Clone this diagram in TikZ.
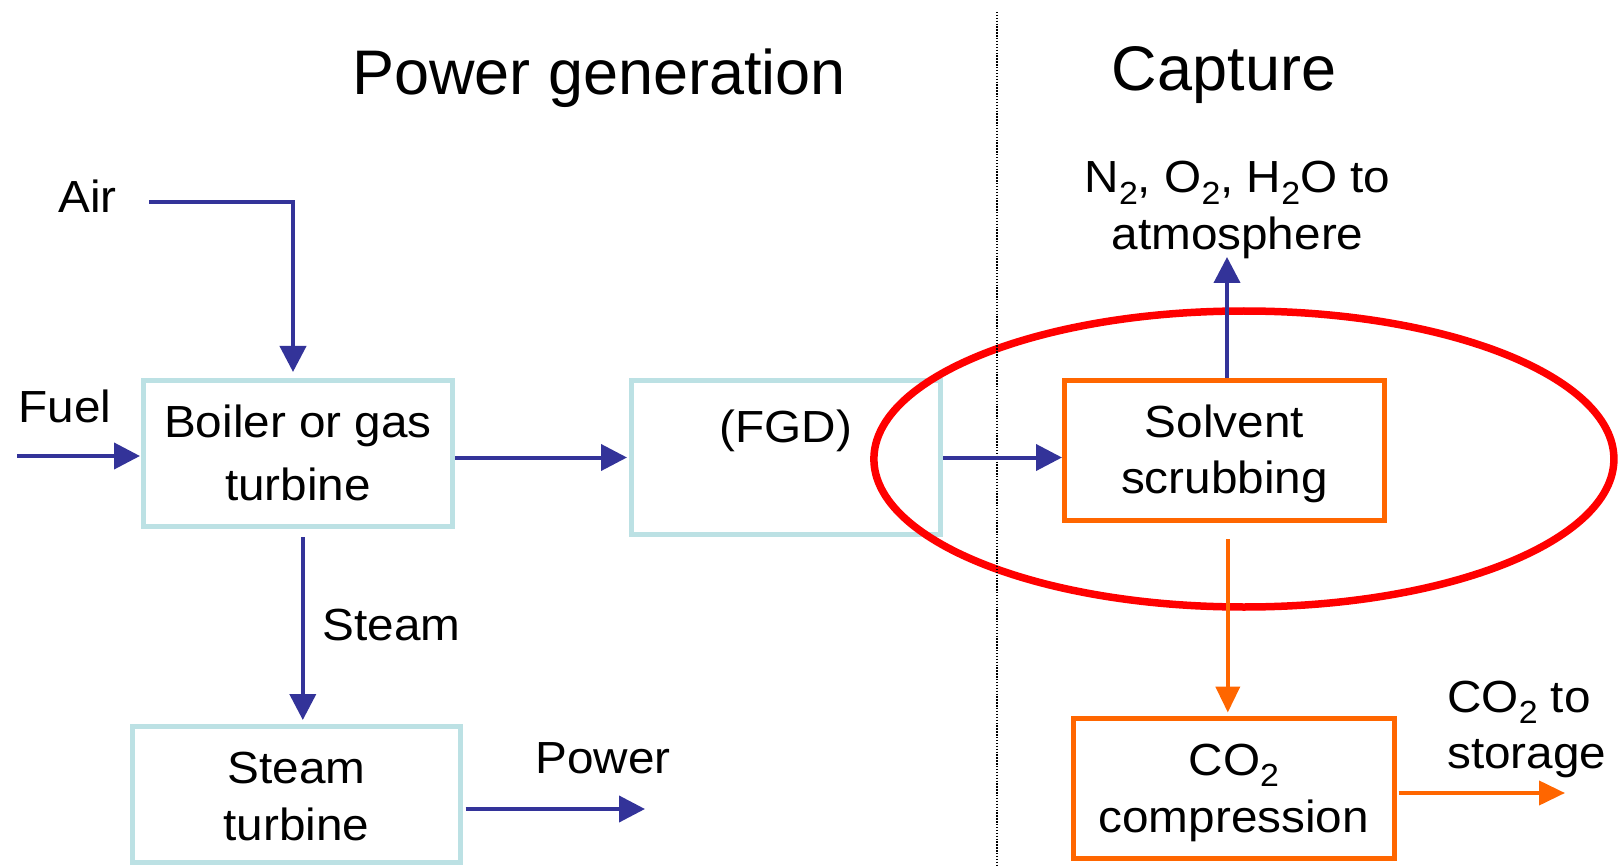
\documentclass[tikz,border=0pt]{standalone}
\usepackage{fontspec}
\setmainfont{Liberation Sans}
\newfontfamily\bodyfont[FakeStretch=1.06]{Liberation Sans}
\usetikzlibrary{arrows.meta}

\definecolor{flowblue}{RGB}{51,51,153}
\definecolor{boxblue}{RGB}{188,225,228}
\definecolor{caporange}{RGB}{255,102,0}
\definecolor{ringred}{RGB}{255,0,0}

% lowered "2" for chemical formulae
\newcommand\subtwo{\raisebox{-11.5pt}{\fontsize{32}{32}\selectfont 2}}

\tikzset{
  txt/.style={font=\bodyfont\fontsize{45}{57}\selectfont, inner sep=0pt},
  heading/.style={font=\fontsize{63}{70}\selectfont, inner sep=0pt},
  plantbox/.style={draw=boxblue, line width=5pt, inner sep=0pt, align=center,
                   font=\bodyfont\fontsize{45}{57}\selectfont},
  capbox/.style={draw=caporange, line width=5pt, inner sep=0pt, align=center,
                 font=\bodyfont\fontsize{45}{57}\selectfont},
  flow/.style={draw=flowblue, line width=4pt, -{Triangle[length=26pt,width=26pt]}},
  coflow/.style={draw=caporange, line width=4pt, -{Triangle[length=26pt,width=24pt]}},
  divider/.style={draw=black, line width=1.6pt, dash pattern=on 1.4pt off 1.5pt},
}

\begin{document}
\begin{tikzpicture}[x=1pt,y=-1pt]
\useasboundingbox (0,0) rectangle (1619,866);

% process blocks (the text box is sized from the baseline of its last line)
\node[plantbox, minimum width=309pt, minimum height=146pt,
      text height=105pt, text depth=12pt, font=\bodyfont\fontsize{45}{63}\selectfont]
  (boiler) at (298,453.5) {Boiler or gas\\turbine};
\node[plantbox, minimum width=309pt, minimum height=154pt,
      text height=34pt, text depth=65pt]
  (fgd) at (786,457.5) {(FGD)};
\node[plantbox, minimum width=328pt, minimum height=136pt,
      text height=103pt, text depth=12pt]
  (steamturb) at (296.4,794.5) {Steam\\turbine};
\node[capbox, minimum width=320pt, minimum height=140pt,
      text height=97pt, text depth=12pt, font=\bodyfont\fontsize{45}{56}\selectfont]
  (solvent) at (1224.5,450.5) {Solvent\\scrubbing};
\node[capbox, minimum width=320.5pt, minimum height=140pt,
      text height=100pt, text depth=12pt]
  (comp) at (1233.8,788) {CO\subtwo\\compression};

% capture unit highlight
\draw[ringred, line width=7.5pt] (1243.9,459) ellipse [x radius=370pt, y radius=148pt];

% section divider
\coordinate (divTop) at (997,12);
\coordinate (divBot) at (997,866);
\draw[divider] (divTop) -- (divBot);

% headings
\node[heading, anchor=base] (powergen) at (599,95) {Power generation};
\node[heading, anchor=base] (capture) at (1224,91) {Capture};

% stream labels
\node[txt, anchor=base] (air) at (87.5,213) {Air};
\node[txt, anchor=base] (fuel) at (65,422) {Fuel};
\node[txt, anchor=base] (steam) at (391.8,640) {Steam};
\node[txt, anchor=base] (power) at (603,773) {Power};
\node[txt, anchor=base, align=center] (vent) at (1237.5,250)
  {N\subtwo, O\subtwo, H\subtwo O to\\atmosphere};
\node[txt, anchor=base west, align=left, font=\bodyfont\fontsize{45}{56}\selectfont]
  (storage) at (1447,768) {CO\subtwo\ to\\storage};

% flue gas and utility streams
\coordinate (airA) at (149,202);
\coordinate (airB) at (293,202);
\draw[flow, shorten >=6pt] (airA) -- (airB) -- (airB |- boiler.north);

\coordinate (fuelA) at (17,456);
\draw[flow, shorten >=1pt] (fuelA) -- (fuelA -| boiler.west);

\draw[flow, shorten >=2pt] (boiler.east |- fgd.west) -- (fgd.west);
\draw[flow] (fgd.east) -- (fgd.east -| solvent.west);

\coordinate (ventTip) at (1227,257);
\draw[flow] (ventTip |- solvent.north) -- (ventTip);

\draw[flow, shorten <=8pt, shorten >=4pt]
  ([xshift=4.8pt]boiler.south) -- ([xshift=4.8pt]boiler.south |- steamturb.north);

\coordinate (powerTip) at (645,809);
\draw[flow, shorten <=2.7pt] (powerTip -| steamturb.east) -- (powerTip);

% CO2 stream
\draw[coflow, shorten <=16pt, shorten >=3pt]
  ([xshift=3.3pt]solvent.south) -- ([xshift=3.3pt]solvent.south |- comp.north);

\coordinate (storeTip) at (1565,793);
\draw[coflow, shorten <=2pt] (storeTip -| comp.east) -- (storeTip);
\end{tikzpicture}
\end{document}
